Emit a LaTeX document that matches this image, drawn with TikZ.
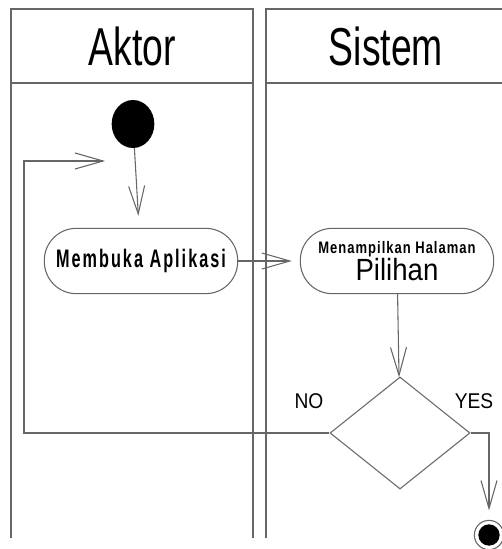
\documentclass[tikz,border=0pt]{standalone}
\usepackage{fontspec}
\setmainfont{Liberation Sans}
\newfontfamily\lajurfont[FakeStretch=0.7]{Liberation Sans}
\newfontfamily\aksifont[FakeStretch=0.64,LetterSpace=8]{Liberation Sans}
\newfontfamily\kecilfont[FakeStretch=0.78,LetterSpace=6]{Liberation Sans}
\newfontfamily\besarfont[FakeStretch=0.9]{Liberation Sans}
\usetikzlibrary{arrows.meta, shapes.geometric}

\tikzset{
  garis/.style={draw=black!60, line width=0.8pt},
  panah/.style={garis, -{Straight Barb[length=21pt,width=12pt]}},
  judul/.style={font=\lajurfont\fontsize{40}{40}\selectfont},
  aksi/.style={garis, rectangle, rounded corners=24pt, minimum width=145pt,
               minimum height=49pt, inner sep=0pt, align=center},
  label/.style={font=\besarfont\fontsize{16}{16}\selectfont}
}

\begin{document}
\begin{tikzpicture}[x=0.75pt, y=-0.75pt]
    \useasboundingbox (0,0) rectangle (501,549);

    % lajur
    \draw[garis] (11,538) -- (11,9) -- (253,9) -- (253,538);
    \draw[garis] (11,83) -- (253,83);
    \draw[garis] (266,538) -- (266,9) -- (510,9);
    \draw[garis] (266,83) -- (510,83);
    \node[judul] (aktor)  at (132,46) {Aktor};
    \node[judul] (sistem) at (386,46) {Sistem};

    \node[ellipse, fill=black, minimum width=32pt, minimum height=36pt,
          inner sep=0pt]                  (mulai)   at (133,124) {};
    \node[aksi, font=\aksifont\bfseries\fontsize{19}{19}\selectfont]
                                          (buka)    at (141,261) {Membuka Aplikasi};
    \node[aksi, font=\fontsize{12.5}{19}\selectfont]
                                          (tampil)  at (397,261)
        {{\kecilfont\bfseries Menampilkan Halaman}\\
         {\besarfont\fontsize{23}{19}\selectfont Pilihan}};
    \node[diamond, garis, minimum width=105pt, minimum height=84pt,
          inner sep=0pt]                  (cek)     at (400,433) {};
    \node[circle, garis, minimum size=22pt, inner sep=0pt,
          path picture={\fill[black] (path picture bounding box.center) circle (8pt);}]
                                          (selesai) at (489,535) {};
    \node[label] (no)  at (309,401) {NO};
    \node[label] (yes) at (474,401) {YES};

    \coordinate (belok) at (24,161);
    \coordinate (masuk) at (105,161);

    \path
        (mulai)
            edge [panah, shorten >=9pt] (buka)
        (buka)
            edge [panah, shorten >=6pt] (tampil)
        (tampil)
            edge [panah] (cek)
       ;
    \draw[panah] (cek.west) -| (belok) -- (masuk);
    \draw[panah, shorten >=7pt] (cek.east) -| (selesai.north);
\end{tikzpicture}
\end{document}
